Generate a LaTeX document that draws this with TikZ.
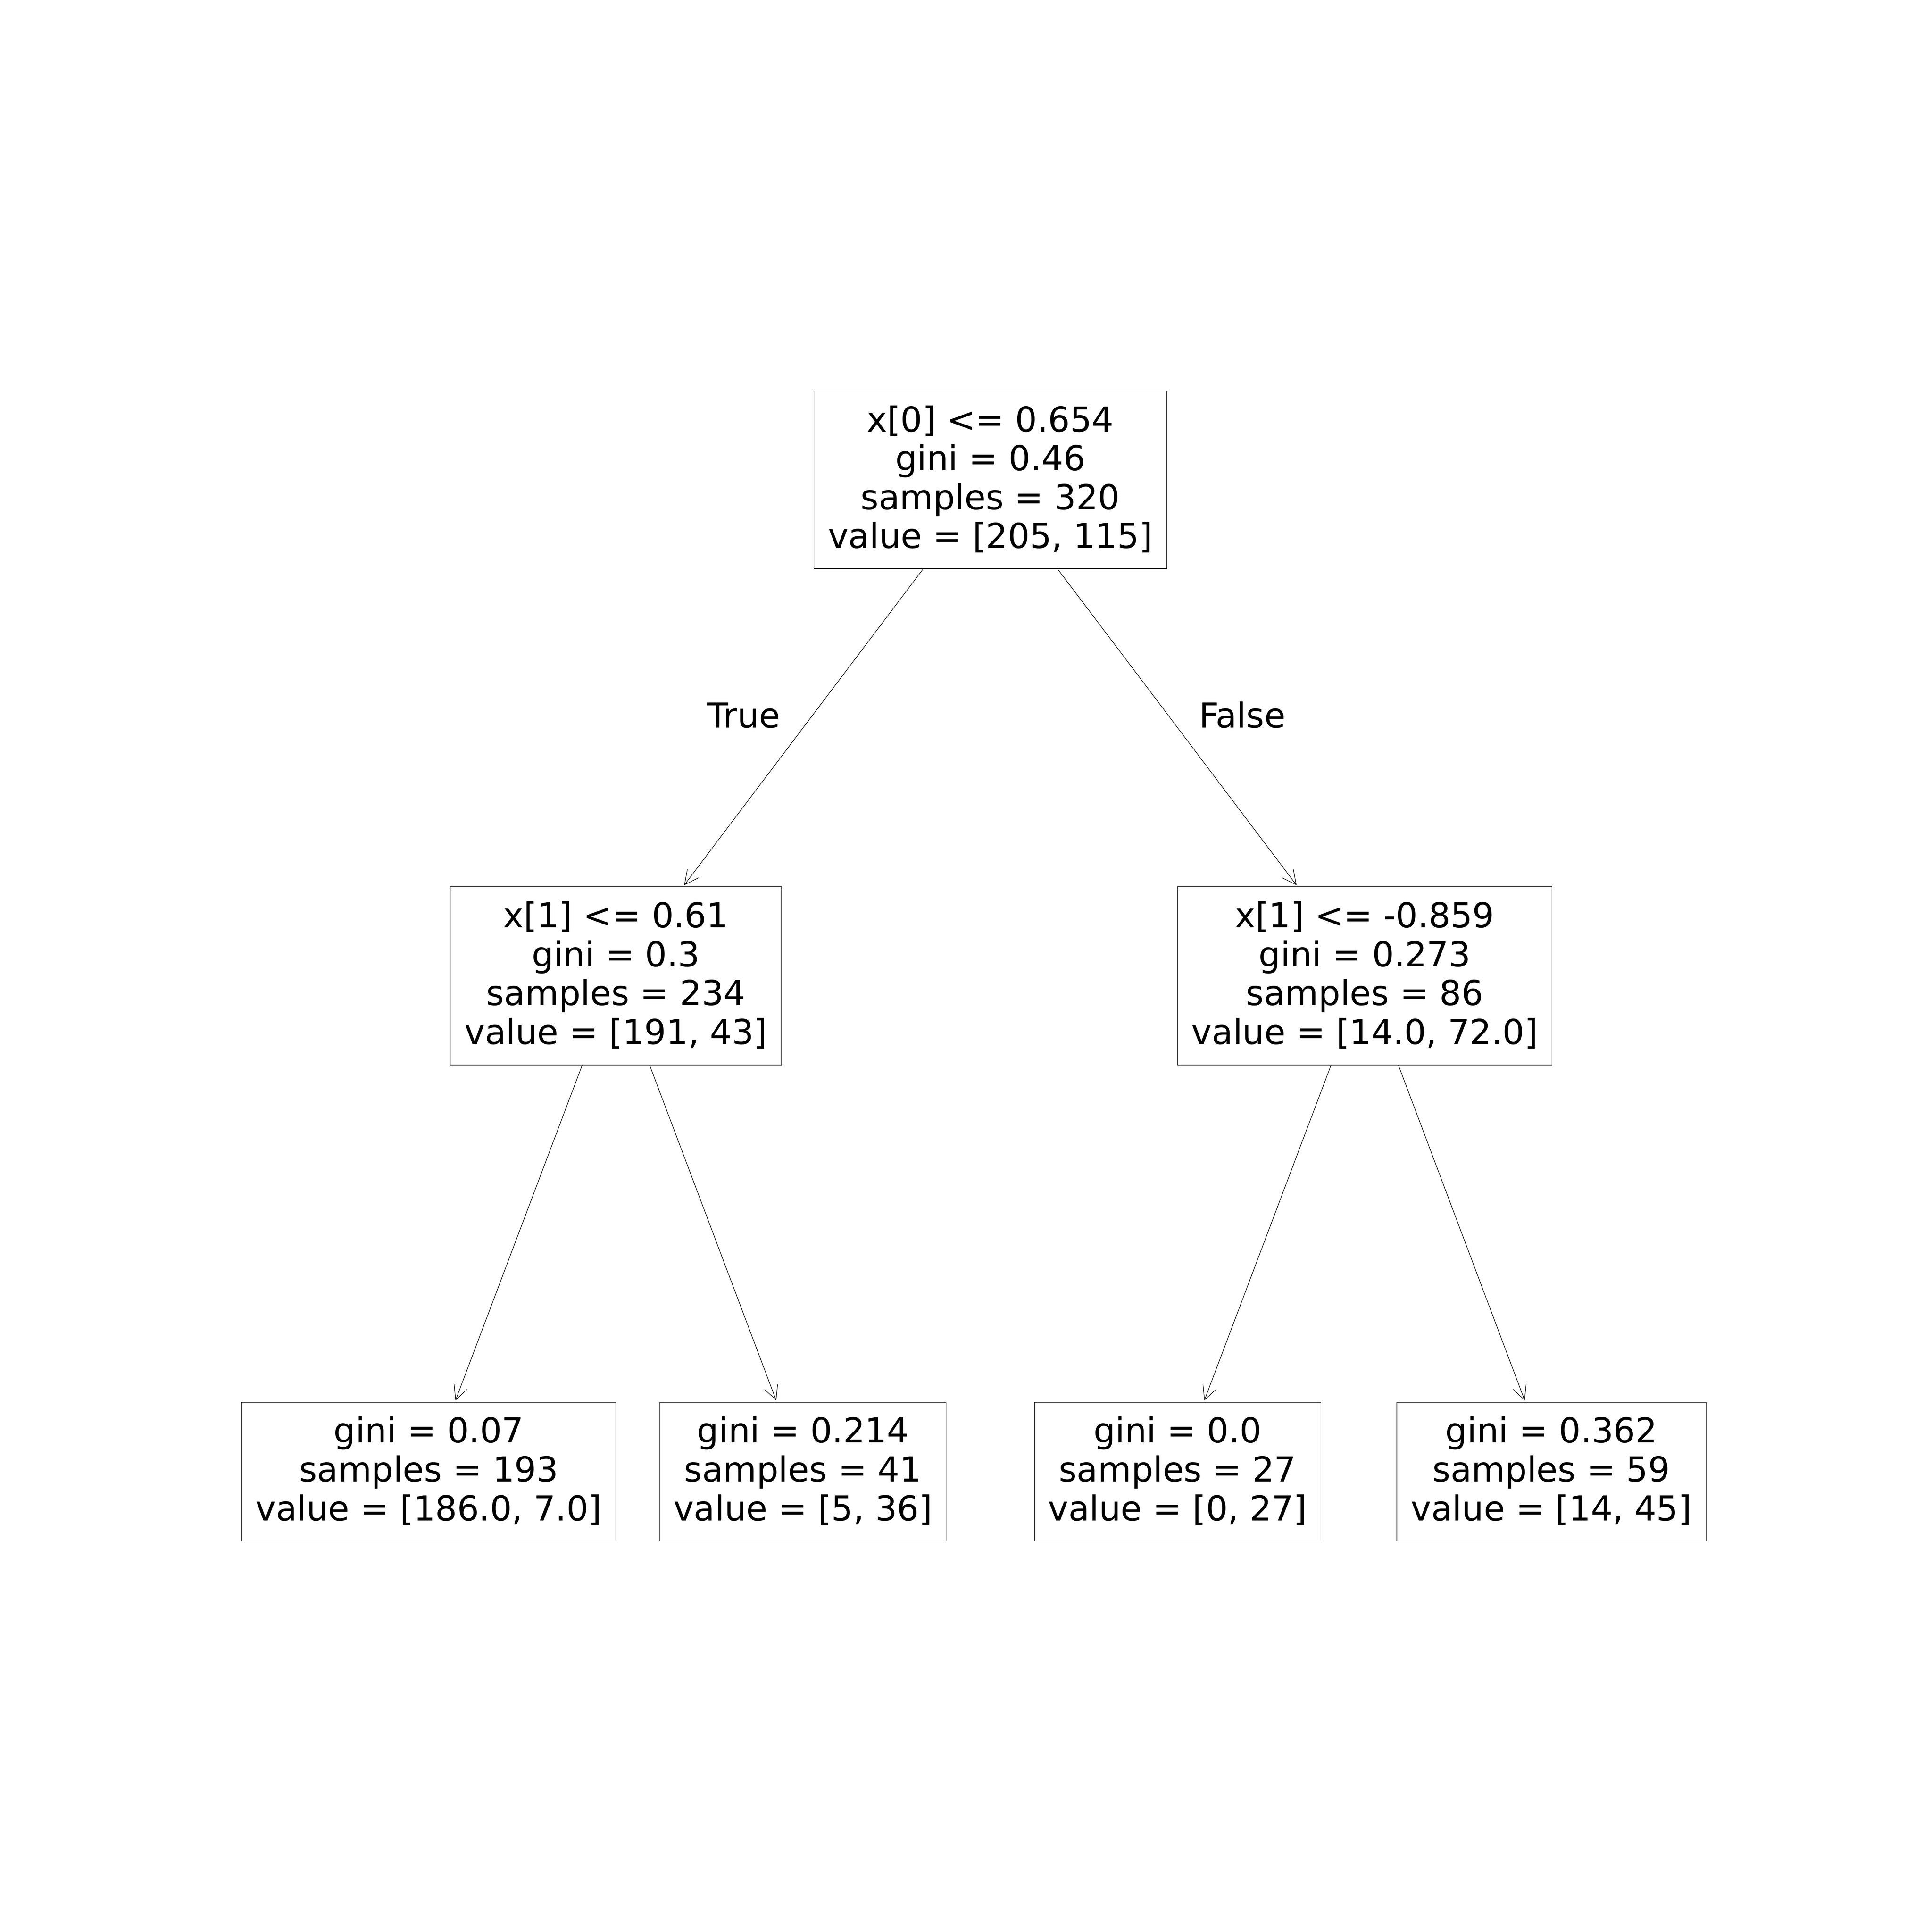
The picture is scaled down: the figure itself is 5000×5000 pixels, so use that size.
\documentclass[tikz,border=0pt]{standalone}
\usepackage{fontspec}
\setmainfont{DejaVu Sans}
\usetikzlibrary{arrows.meta}
\newcommand{\toprl}{\rule{0pt}{0.80cm}}
\newcommand{\botrl}{\rule[-0.28cm]{0pt}{0.28cm}}
\begin{document}
\begin{tikzpicture}[x=0.01cm,y=-0.01cm,
  treebox/.style={draw=black, line width=0.4pt, fill=white, inner sep=0pt, align=center,
    font=\fontsize{25.3pt}{28.6pt}\selectfont},
  lab/.style={inner sep=0pt, anchor=base, font=\fontsize{25.3pt}{28.6pt}\selectfont},
  edge/.style={draw=black, line width=0.4pt, shorten >=0.04cm,
    -{Straight Barb[length=0.36cm,width=0.36cm]}}]
\useasboundingbox[fill=white] (0,0) rectangle (5000,5000);
\node[treebox, minimum width=9.12cm, minimum height=4.60cm] (root) at (2563,1242)
  {\toprl x[0] <= 0.654\\gini = 0.46\\samples = 320\\value = [205, 115]\botrl};
\node[treebox, minimum width=8.56cm, minimum height=4.61cm] (l) at (1594,2525.5)
  {\toprl x[1] <= 0.61\\gini = 0.3\\samples = 234\\value = [191, 43]\botrl};
\node[treebox, minimum width=9.68cm, minimum height=4.61cm] (r) at (3532,2525.5)
  {\toprl x[1] <= -0.859\\gini = 0.273\\samples = 86\\value = [14.0, 72.0]\botrl};
\node[treebox, minimum width=9.67cm, minimum height=3.59cm] (ll) at (1109.5,3808.5)
  {\toprl gini = 0.07\\samples = 193\\value = [186.0, 7.0]\botrl};
\node[treebox, minimum width=7.40cm, minimum height=3.59cm] (lr) at (2078,3808.5)
  {\toprl gini = 0.214\\samples = 41\\value = [5, 36]\botrl};
\node[treebox, minimum width=7.41cm, minimum height=3.59cm] (rl) at (3047.5,3808.5)
  {\toprl gini = 0.0\\samples = 27\\value = [0, 27]\botrl};
\node[treebox, minimum width=8.00cm, minimum height=3.59cm] (rr) at (4015,3808.5)
  {\toprl gini = 0.362\\samples = 59\\value = [14, 45]\botrl};
\draw[edge] (root) -- (l);
\draw[edge] (root) -- (r);
\draw[edge] (l) -- (ll);
\draw[edge] (l) -- (lr);
\draw[edge] (r) -- (rl);
\draw[edge] (r) -- (rr);
\node[lab] (truelab) at (1925,1883) {True};
\node[lab] (falselab) at (3215,1883) {False};
\end{tikzpicture}
\end{document}
